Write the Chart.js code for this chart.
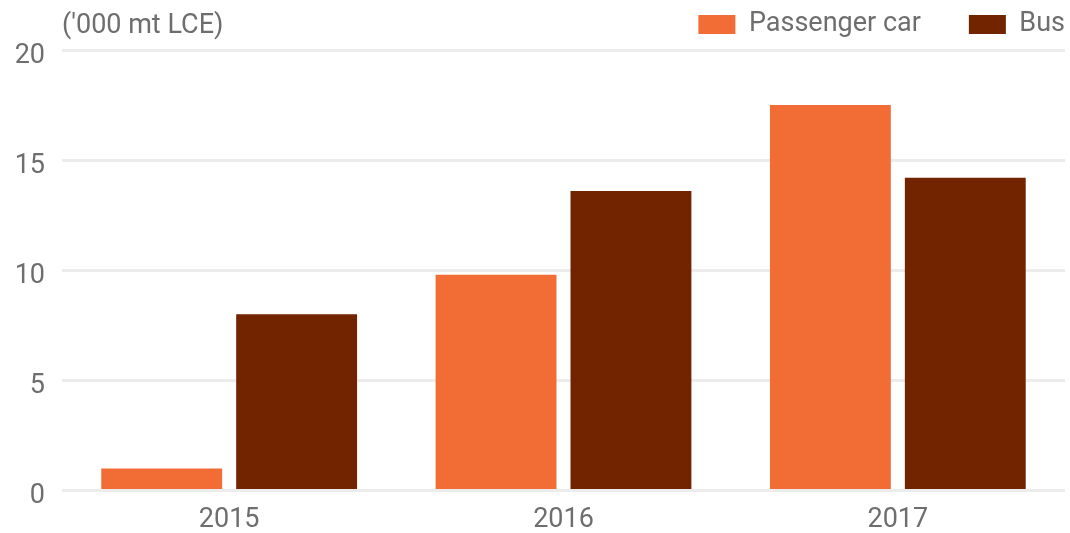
<!DOCTYPE html>
<html>
<head>
<meta charset="utf-8">
<script src="https://cdn.jsdelivr.net/npm/chart.js@4/dist/chart.umd.min.js"></script>
<style>
  html, body { margin: 0; padding: 0; background: #ffffff; }
  #wrap { width: 1070px; height: 533px; position: relative; }
</style>
</head>
<body>
<div id="wrap"><canvas id="c"></canvas></div>
<script>
const categories = ['2015', '2016', '2017'];
const passengerCar = [1.0, 9.8, 17.5];
const bus = [8.0, 13.6, 14.2];
const yTicks = [0, 5, 10, 15, 20];
const unitLabel = "('000 mt LCE)";
const seriesNames = ['Passenger car', 'Bus'];

const FONT = 'Roboto, "Noto Sans", sans-serif';
const TEXT = '#6e6e6e';
const LEGEND_PAD = 48;

const unitPlugin = {
  id: 'unitLabel',
  afterDraw(chart) {
    const ctx = chart.ctx;
    ctx.save();
    ctx.font = '27px ' + FONT;
    ctx.fillStyle = TEXT;
    ctx.textAlign = 'left';
    ctx.textBaseline = 'middle';
    ctx.fillText(unitLabel, chart.chartArea.left, 26);
    ctx.restore();
  }
};

const legendShift = {
  id: 'legendShift',
  afterLayout(chart) {
    const l = chart.legend;
    const targetRight = chart.chartArea.right + LEGEND_PAD;
    const dx = targetRight - l.right;
    l.left += dx;
    l.right += dx;
    l.top = -37;
  }
};

new Chart(document.getElementById('c'), {
  type: 'bar',
  data: {
    labels: categories,
    datasets: [
      { label: seriesNames[0], data: passengerCar, backgroundColor: '#f26c36', borderWidth: 0 },
      { label: seriesNames[1], data: bus, backgroundColor: '#722300', borderWidth: 0 }
    ]
  },
  options: {
    responsive: true,
    maintainAspectRatio: false,
    animation: false,
    categoryPercentage: 0.807,
    barPercentage: 0.896,
    layout: { padding: { top: 0, right: 5, bottom: 0, left: 0 } },
    plugins: {
      tooltip: { enabled: false },
      legend: {
        position: 'top',
        align: 'end',
        maxHeight: 50,
        labels: {
          font: { family: FONT, size: 27 },
          color: TEXT,
          boxWidth: 37,
          boxHeight: 19,
          padding: LEGEND_PAD
        }
      }
    },
    scales: {
      x: {
        afterFit(scale) { scale.height = 42.5; },
        grid: { display: false, drawTicks: false },
        border: { display: false },
        ticks: { font: { family: FONT, size: 27 }, color: TEXT, padding: 14 }
      },
      y: {
        min: 0,
        max: 20,
        afterFit(scale) { scale.width = 62; },
        afterBuildTicks(scale) { scale.ticks = yTicks.map(v => ({ value: v })); },
        grid: { color: '#ececec', lineWidth: 3, drawTicks: false },
        border: { display: false },
        ticks: { font: { family: FONT, size: 27 }, color: TEXT, padding: 17, labelOffset: 6 }
      }
    }
  },
  plugins: [unitPlugin, legendShift]
});
</script>
</body>
</html>
